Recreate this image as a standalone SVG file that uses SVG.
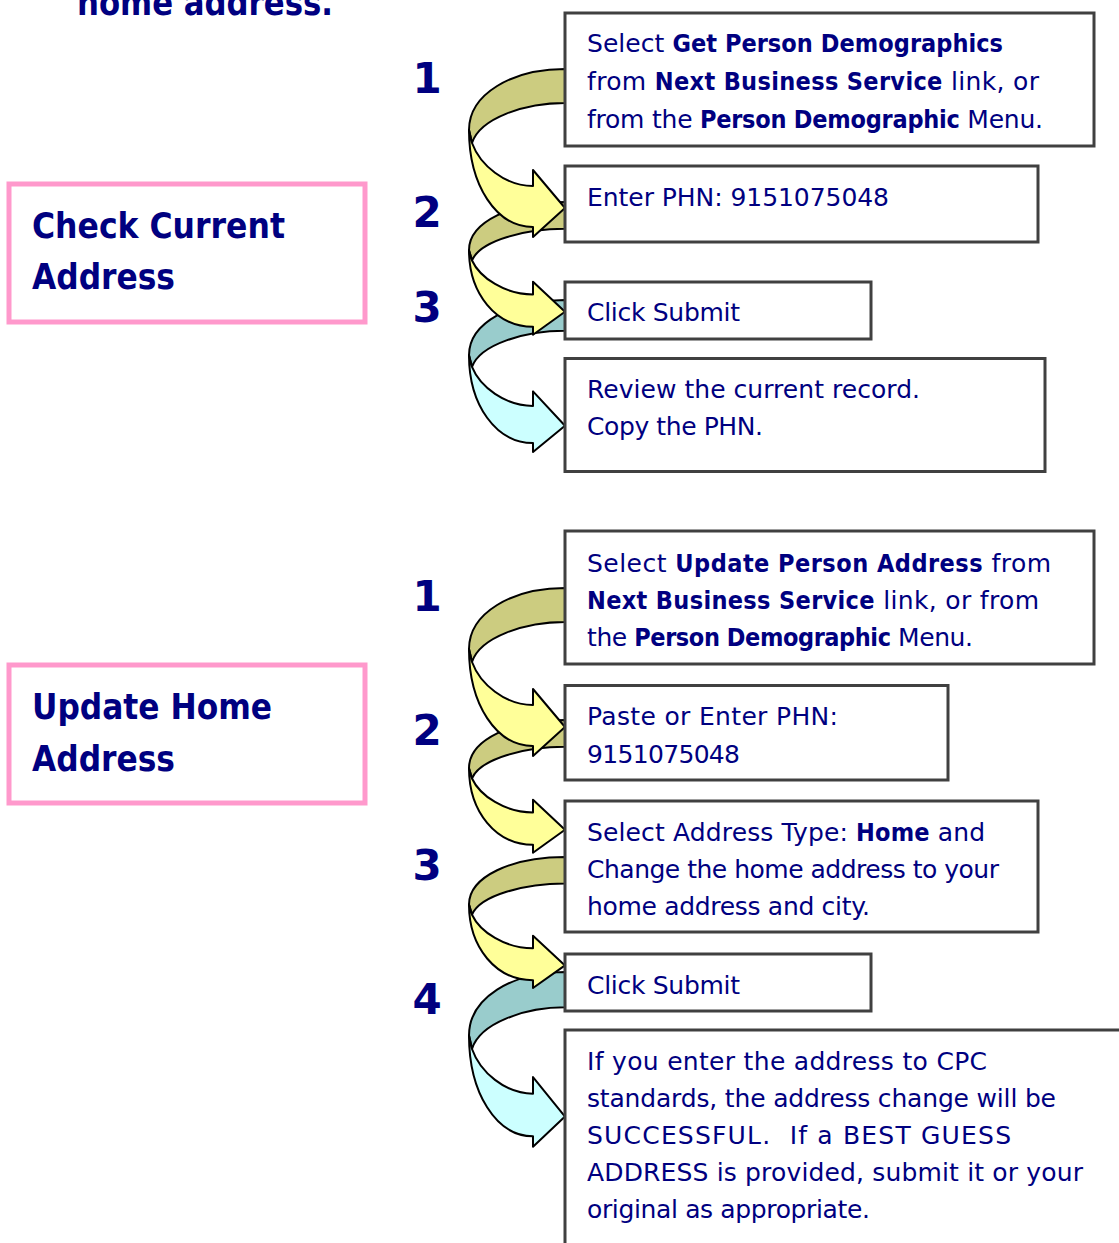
<svg xmlns="http://www.w3.org/2000/svg" xmlns:xlink="http://www.w3.org/1999/xlink" width="1119" height="1243" viewBox="0 0 1119 1243">
<style>
.t{font-family:"DejaVu Sans","Liberation Sans",sans-serif;font-size:25px;fill:#000080}
.b{font-family:"DejaVu Sans Condensed","DejaVu Sans","Liberation Sans",sans-serif;font-weight:bold;font-stretch:condensed}
.title{font-family:"DejaVu Sans Condensed","DejaVu Sans","Liberation Sans",sans-serif;font-weight:bold;font-stretch:condensed;font-size:35px;fill:#000080}
.num{font-family:"DejaVu Sans","Liberation Sans",sans-serif;font-weight:bold;font-size:42px;fill:#000080;text-anchor:middle}
.box{fill:#fff;stroke:#404040;stroke-width:3}
.pink{fill:#fff;stroke:#FF99CC;stroke-width:5}
.arr use{stroke:#000;stroke-width:2;stroke-linejoin:round}
.olive{fill:#CCCC80}
.yel{fill:#FFFF99}
.teal{fill:#99CCCC}
.cyan{fill:#CCFFFF}
</style>
<defs>
<path id="back" vector-effect="non-scaling-stroke" d="M565,0 C512,0 469,25 469,61 L472,74 C480,49 525,34 565,34 Z"/>
<path id="front" vector-effect="non-scaling-stroke" d="M469,61 C469,116 496,158 533,158 L533,168 L565,139 L533,101 L533,117 C505,117 480,96 472,74 Z"/>
</defs>
<rect width="1119" height="1243" fill="#fff"/>

<g id="heading">
<text class="title" x="77" y="15" textLength="256" lengthAdjust="spacingAndGlyphs">home address.</text>
</g>

<g id="connectors" class="arr">
<g transform="translate(0,300) scale(1,0.905)"><use href="#back" class="teal"/><use href="#front" class="cyan"/></g>
<g transform="translate(0,202) scale(1,0.79)"><use href="#back" class="olive"/><use href="#front" class="yel"/></g>
<g transform="translate(0,69)"><use href="#back" class="olive"/><use href="#front" class="yel"/></g>
<g transform="translate(0,972) scale(1,1.04)"><use href="#back" class="teal"/><use href="#front" class="cyan"/></g>
<g transform="translate(0,857) scale(1,0.78)"><use href="#back" class="olive"/><use href="#front" class="yel"/></g>
<g transform="translate(0,720) scale(1,0.79)"><use href="#back" class="olive"/><use href="#front" class="yel"/></g>
<g transform="translate(0,588)"><use href="#back" class="olive"/><use href="#front" class="yel"/></g>
</g>

<g id="check-current-address">
<rect class="pink" x="9" y="184" width="356" height="138"/>
<text class="title" x="32" y="238" textLength="253" lengthAdjust="spacingAndGlyphs">Check Current</text>
<text class="title" x="32" y="289" textLength="143" lengthAdjust="spacingAndGlyphs">Address</text>
</g>

<g id="update-home-address">
<rect class="pink" x="9" y="665" width="356" height="138"/>
<text class="title" x="32" y="719" textLength="240" lengthAdjust="spacingAndGlyphs">Update Home</text>
<text class="title" x="32" y="771" textLength="143" lengthAdjust="spacingAndGlyphs">Address</text>
</g>

<g id="numbers-top">
<text class="num" x="427" y="93">1</text>
<text class="num" x="427" y="227">2</text>
<text class="num" x="427" y="322">3</text>
</g>
<g id="numbers-bottom">
<text class="num" x="427" y="611">1</text>
<text class="num" x="427" y="745">2</text>
<text class="num" x="427" y="880">3</text>
<text class="num" x="427" y="1014">4</text>
</g>

<g id="check-step1">
<rect class="box" x="565" y="13" width="529" height="133"/>
<text class="t" x="587" y="52" textLength="416">Select <tspan class="b">Get Person Demographics</tspan></text>
<text class="t" x="587" y="90" textLength="452">from <tspan class="b">Next Business Service</tspan> link, or</text>
<text class="t" x="587" y="127.5" textLength="456">from the <tspan class="b">Person Demographic</tspan> Menu.</text>
</g>
<g id="check-step2">
<rect class="box" x="565" y="166" width="473" height="76"/>
<text class="t" x="587" y="206" textLength="302">Enter PHN: 9151075048</text>
</g>
<g id="check-step3">
<rect class="box" x="565" y="282" width="306" height="57"/>
<text class="t" x="587" y="321" textLength="153">Click Submit</text>
</g>
<g id="check-step4">
<rect class="box" x="565" y="358.5" width="480" height="113"/>
<text class="t" x="587" y="398" textLength="333">Review the current record.</text>
<text class="t" x="587" y="435" textLength="176">Copy the PHN.</text>
</g>

<g id="update-step1">
<rect class="box" x="565" y="531" width="529" height="133"/>
<text class="t" x="587" y="571.5" textLength="464">Select <tspan class="b">Update Person Address</tspan> from</text>
<text class="t" x="587" y="608.5" textLength="452"><tspan class="b">Next Business Service</tspan> link, or from</text>
<text class="t" x="587" y="645.5" textLength="386">the <tspan class="b">Person Demographic</tspan> Menu.</text>
</g>
<g id="update-step2">
<rect class="box" x="565" y="685.5" width="383" height="94.5"/>
<text class="t" x="587" y="724.5" textLength="251">Paste or Enter PHN:</text>
<text class="t" x="587" y="762.5" textLength="153">9151075048</text>
</g>
<g id="update-step3">
<rect class="box" x="565" y="801" width="473" height="131"/>
<text class="t" x="587" y="840.5" textLength="398">Select Address Type: <tspan class="b">Home</tspan> and</text>
<text class="t" x="587" y="877.5" textLength="412">Change the home address to your</text>
<text class="t" x="587" y="914.5" textLength="283">home address and city.</text>
</g>
<g id="update-step4">
<rect class="box" x="565" y="954" width="306" height="57"/>
<text class="t" x="587" y="993.5" textLength="153">Click Submit</text>
</g>
<g id="update-step5">
<rect class="box" x="565" y="1030" width="600" height="300"/>
<text class="t" x="587" y="1070" textLength="400">If you enter the address to CPC</text>
<text class="t" x="587" y="1107" textLength="469">standards, the address change will be</text>
<text class="t" x="587" y="1144" textLength="424">SUCCESSFUL.&#160; If a BEST GUESS</text>
<text class="t" x="587" y="1181" textLength="496">ADDRESS is provided, submit it or your</text>
<text class="t" x="587" y="1218" textLength="283">original as appropriate.</text>
</g>
</svg>
